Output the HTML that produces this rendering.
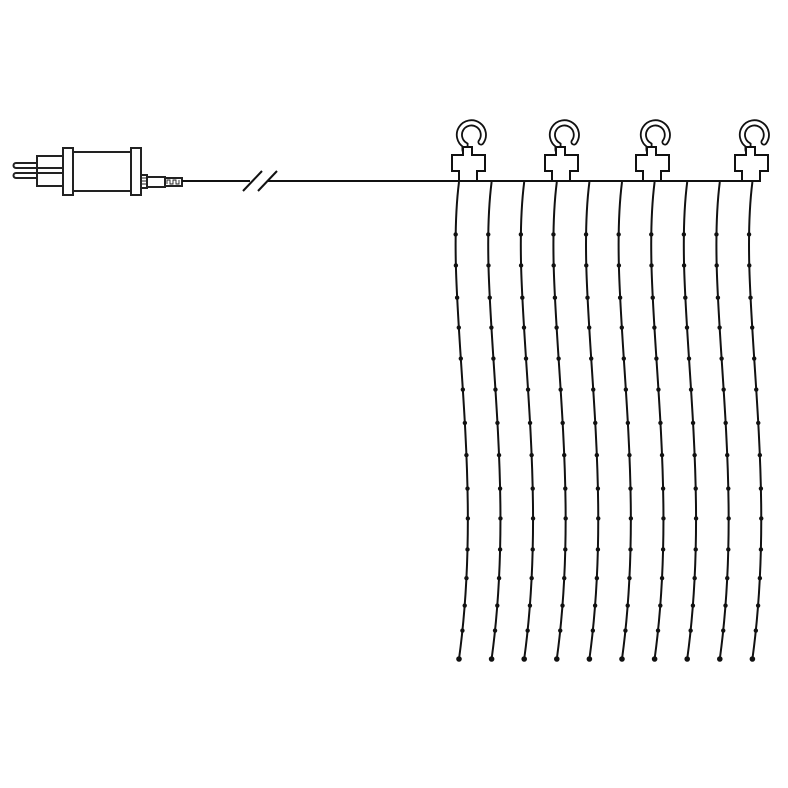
<!DOCTYPE html>
<html><head><style>body{margin:0;background:#fff}svg{display:block}</style></head>
<body>
<svg id="s" width="788" height="788" viewBox="0 0 788 788" xmlns="http://www.w3.org/2000/svg">
<rect width="788" height="788" fill="#fff"/>
<g fill="#fff" stroke="#222" stroke-width="2">
<path d="M37,163 H16 a2.5,2.5 0 0 0 0,5 H37 M37,173 H16 a2.5,2.5 0 0 0 0,5 H37"/>
<rect x="37" y="156" width="26" height="30"/>
<line x1="37" y1="168" x2="63" y2="168"/><line x1="37" y1="173" x2="63" y2="173"/>
<rect x="63" y="148" width="10" height="47"/>
<rect x="73" y="152" width="58" height="39"/>
<rect x="131" y="148" width="10" height="47"/>
<rect x="141" y="175" width="6" height="13"/>
<path d="M142,178h4M142,181h4M142,184h4" stroke-width="0.9"/>
<rect x="147" y="177" width="18" height="10"/>
<rect x="165" y="178" width="17" height="8"/>
<path d="M167,184v-4h3v4h3v-4h3v4h3v-4" fill="none" stroke-width="0.9"/>
</g>
<line x1="182" y1="181" x2="760" y2="181" stroke="#111" stroke-width="2"/>
<rect x="250" y="172" width="18" height="18" fill="#fff"/>
<line x1="243" y1="191" x2="262" y2="171" stroke="#111" stroke-width="2"/>
<line x1="258" y1="191" x2="277" y2="171" stroke="#111" stroke-width="2"/>
<g id="hooks"></g>
<g id="strands" fill="none" stroke="#111" stroke-width="2"></g>
<g id="dots" fill="#111"></g>
</svg>
<script>
var NS="http://www.w3.org/2000/svg";
var hooks=document.getElementById('hooks');
[468,561,652,751].forEach(function(c){
 var d=c-468;
 var g=document.createElementNS(NS,'g');g.setAttribute('transform','translate('+d+',0)');
 g.innerHTML='<path d="M465,150 V145 A12,12 0 1 1 481,142" fill="none" stroke="#111" stroke-width="7" stroke-linecap="round"/>'+
 '<path d="M465,150 V145 A12,12 0 1 1 481,142" fill="none" stroke="#fff" stroke-width="3.4" stroke-linecap="round"/>'+
 '<path d="M452,155 H463 V147 H472 V155 H485 V171 H477 V181 H459 V171 H452 Z" fill="#fff" stroke="#111" stroke-width="2"/>';
 hooks.appendChild(g);
});
var st=document.getElementById('strands'),dots=document.getElementById('dots');
var ys=[234,266,298,328,358,389,423,455,488,518,549,578,605,631,659];
for(var i=0;i<10;i++){
 var o=i*32.6;
 var p=document.createElementNS(NS,'path');
 p.setAttribute('d','M'+(459+o)+',182 C'+(444+o)+',300 '+(485+o)+',470 '+(459+o)+',659');
 st.appendChild(p);
 var L=p.getTotalLength(),pts=[];
 for(var k=0;k<=400;k++){pts.push(p.getPointAtLength(L*k/400));}
 ys.forEach(function(y){
  var best=pts[0];pts.forEach(function(q){if(Math.abs(q.y-y)<Math.abs(best.y-y))best=q;});
  var c=document.createElementNS(NS,'circle');c.setAttribute('cx',best.x);c.setAttribute('cy',best.y);c.setAttribute('r',y==659?2.8:2.2);
  dots.appendChild(c);
 });
}
</script>
</body></html>
